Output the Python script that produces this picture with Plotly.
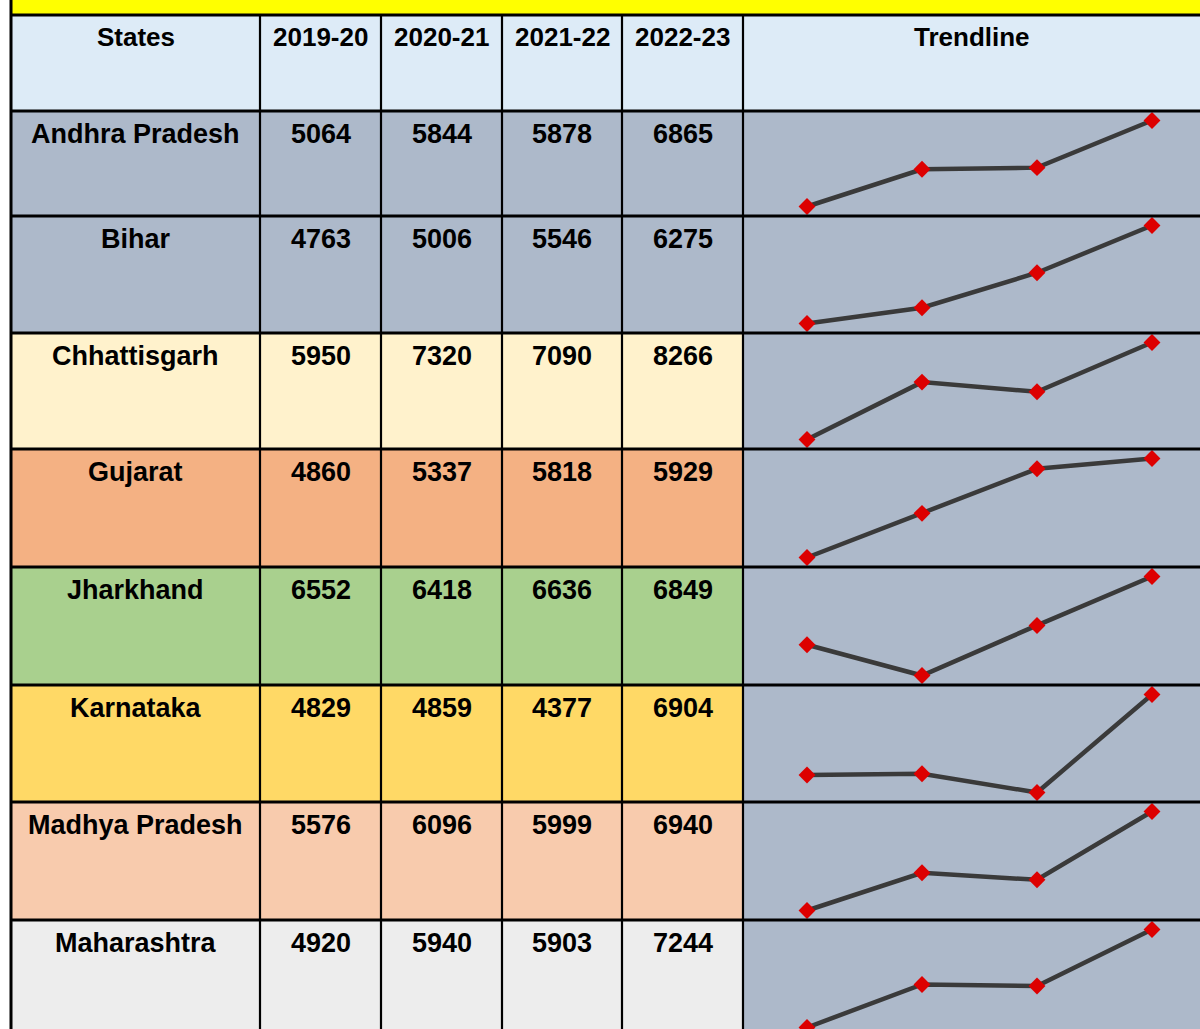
import plotly.graph_objects as go

# ---------------- data ----------------
states = ["Andhra Pradesh", "Bihar", "Chhattisgarh", "Gujarat", "Jharkhand",
          "Karnataka", "Madhya Pradesh", "Maharashtra"]
years = ["2019-20", "2020-21", "2021-22", "2022-23"]
v_2019_20 = [5064, 4763, 5950, 4860, 6552, 4829, 5576, 4920]
v_2020_21 = [5844, 5006, 7320, 5337, 6418, 4859, 6096, 5940]
v_2021_22 = [5878, 5546, 7090, 5818, 6636, 4377, 5999, 5903]
v_2022_23 = [6865, 6275, 8266, 5929, 6849, 6904, 6940, 7244]
headers = ["States"] + years + ["Trendline"]

# ---------------- styling / layout ----------------
W, H = 1200, 1029
FONT = "Liberation Sans, Arial, sans-serif"
row_colors = ["#ADB9CA", "#ADB9CA", "#FFF2CC", "#F4B183", "#A9D08E",
              "#FFD966", "#F8CBAD", "#EDEDED"]
header_color = "#DDEBF7"
trend_bg = "#ADB9CA"
col_edges = [11, 260, 381, 502, 622, 743, 1200]
header_top, header_bot = 15, 111
row_edges = [111, 216, 333, 449, 567, 685, 802, 920, 1037]
spark_x = [807, 1152]     # pixel x of first / last sparkline point
spark_pad = 9.5

series = list(zip(v_2019_20, v_2020_21, v_2021_22, v_2022_23))

fig = go.Figure()
shapes = []
annotations = []

def rect(x0, x1, y0, y1, color):
    shapes.append(dict(type="rect", xref="x", yref="y", x0=x0, x1=x1, y0=y0, y1=y1,
                       fillcolor=color, line=dict(width=0), layer="below"))

def line(x0, x1, y0, y1, w):
    shapes.append(dict(type="line", xref="x", yref="y", x0=x0, x1=x1, y0=y0, y1=y1,
                       line=dict(color="black", width=w), layer="above"))

# yellow strip
rect(col_edges[0], W, 0, header_top, "#FFFF00")
# header
rect(col_edges[0], W, header_top, header_bot, header_color)
# rows
for i, c in enumerate(row_colors):
    rect(col_edges[0], col_edges[5], row_edges[i], row_edges[i + 1], c)
    rect(col_edges[5], W, row_edges[i], row_edges[i + 1], trend_bg)

# borders
line(col_edges[0], W, header_top, header_top, 3)
for y in row_edges[:-1]:
    line(col_edges[0], W, y, y, 3)
line(col_edges[0], col_edges[0], 0, H, 3)
for x in col_edges[1:6]:
    line(x, x, header_top, H, 2.2)

# header text
for j, h in enumerate(headers):
    cx = (col_edges[j] + col_edges[j + 1]) / 2
    annotations.append(dict(xref="x", yref="y", x=cx, y=header_top + 22, text=h,
                            showarrow=False, xanchor="center", yanchor="middle",
                            font=dict(family=FONT, size=26, color="black", weight=700)))
# body text
for i, s in enumerate(states):
    vals = [s] + [str(v) for v in series[i]]
    for j, t in enumerate(vals):
        cx = (col_edges[j] + col_edges[j + 1]) / 2
        annotations.append(dict(xref="x", yref="y", x=cx, y=row_edges[i] + 23, text=t,
                                showarrow=False, xanchor="center", yanchor="middle",
                                font=dict(family=FONT, size=27, color="black", weight=700)))

fig.add_trace(go.Scatter(x=[0, W], y=[0, H], mode="markers", marker=dict(opacity=0),
                         hoverinfo="skip", showlegend=False))

layout_axes = {}
# sparkline subplots
xs = list(range(len(years)))
step = (spark_x[1] - spark_x[0]) / (len(years) - 1)
xr = [xs[0] - (spark_x[0] - col_edges[5]) / step, xs[-1] + (W - spark_x[1]) / step]
for i in range(len(states)):
    k = i + 2
    vals = list(series[i])
    vmin, vmax = min(vals), max(vals)
    top, bot = row_edges[i], row_edges[i + 1]
    pmax, pmin = top + spark_pad, bot - spark_pad
    per_px = (vmax - vmin) / (pmin - pmax)
    dtop, dbot = top, min(bot, H)
    lo = vmin + (pmin - dbot) * per_px
    hi = vmin + (pmin - dtop) * per_px
    layout_axes[f"xaxis{k}"] = dict(domain=[col_edges[5] / W, 1], range=xr, visible=False,
                                    anchor=f"y{k}", fixedrange=True)
    layout_axes[f"yaxis{k}"] = dict(domain=[1 - dbot / H, 1 - dtop / H], range=[lo, hi],
                                    visible=False, anchor=f"x{k}", fixedrange=True)
    fig.add_trace(go.Scatter(x=xs, y=vals, xaxis=f"x{k}", yaxis=f"y{k}",
                             mode="lines+markers", cliponaxis=False,
                             line=dict(color="#3A3A3A", width=4.5),
                             marker=dict(symbol="diamond", size=13, color="#DD0000",
                                         line=dict(width=0)),
                             hoverinfo="skip", showlegend=False))

fig.update_layout(
    width=W, height=H, margin=dict(l=0, r=0, t=0, b=0),
    paper_bgcolor="white", plot_bgcolor="rgba(0,0,0,0)",
    xaxis=dict(domain=[0, 1], range=[0, W], visible=False, fixedrange=True),
    yaxis=dict(domain=[0, 1], range=[H, 0], visible=False, fixedrange=True),
    shapes=shapes, annotations=annotations, showlegend=False,
    **layout_axes,
)

fig.write_html("out.html", config={"displayModeBar": False},
               post_script="document.body.style.margin='0';document.body.style.overflow='hidden';")
